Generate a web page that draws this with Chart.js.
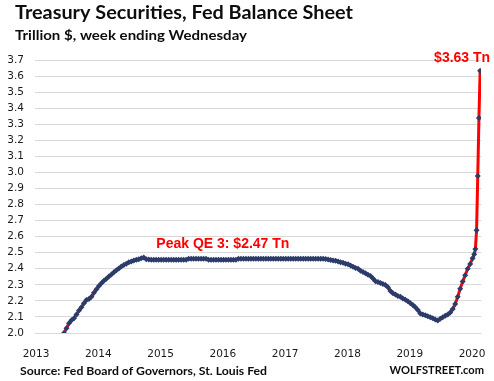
<!DOCTYPE html>
<html><head><meta charset="utf-8">
<script src="https://cdn.jsdelivr.net/npm/chart.js@4.4.1/dist/chart.umd.min.js"></script>
<style>html,body{margin:0;padding:0;background:#fff;overflow:hidden}#wrap{position:relative;width:494px;height:381px}</style>
</head><body><div id="wrap"><canvas id="c" width="494" height="381"></canvas></div>
<script>
// Decimal-year positions of the plotted points
const weekYears = [
 2013.45,2013.49,2013.53,2013.57,2013.61,2013.65,2013.69,2013.73,2013.77,2013.81,
 2013.85,2013.89,2013.93,2013.97,2014.01,2014.05,2014.09,2014.13,2014.17,2014.21,
 2014.25,2014.29,2014.33,2014.37,2014.41,2014.45,2014.49,2014.53,2014.57,2014.61,
 2014.65,2014.69,2014.73,2014.77,2014.81,
 2014.85,2014.89,2014.93,2014.97,2015.01,2015.05,2015.09,2015.13,2015.17,2015.21,
 2015.25,2015.29,2015.33,2015.37,2015.41,
 2015.45,2015.49,2015.53,2015.57,2015.61,2015.65,2015.69,2015.73,
 2015.77,2015.81,2015.85,2015.89,2015.93,2015.97,2016.01,2016.05,2016.09,2016.13,2016.17,2016.21,
 2016.25,2016.29,2016.33,2016.37,2016.41,2016.45,2016.49,2016.53,2016.57,2016.61,
 2016.65,2016.69,2016.73,2016.77,2016.81,2016.85,2016.89,2016.93,2016.97,2017.01,
 2017.05,2017.09,2017.13,2017.17,2017.21,2017.25,2017.29,2017.33,2017.37,2017.41,
 2017.45,2017.49,2017.53,2017.57,2017.61,2017.65,
 2017.69,2017.73,2017.77,2017.81,2017.85,2017.89,2017.93,2017.97,2018.01,2018.05,
 2018.09,2018.13,2018.17,2018.21,2018.25,2018.29,2018.33,2018.37,2018.41,2018.45,
 2018.49,2018.53,2018.57,2018.61,2018.65,2018.69,2018.73,2018.77,2018.81,2018.85,
 2018.89,2018.93,2018.97,2019.01,2019.05,2019.09,2019.13,2019.17,2019.21,2019.25,
 2019.29,2019.33,2019.37,2019.41,2019.45,2019.49,2019.53,2019.57,2019.61,2019.65,
 2019.69,2019.73,2019.77,2019.81,2019.85,2019.89,2019.93,2019.97,2020.01,2020.035,
 2020.054,2020.073,2020.092,2020.111,2020.130
];
// Treasury securities held, trillion $
const treasuryTn = [
 2.000,2.030,2.060,2.080,2.092,2.115,2.140,2.160,2.185,2.205,
 2.212,2.225,2.250,2.272,2.292,2.310,2.325,2.338,2.352,2.365,
 2.378,2.390,2.402,2.414,2.424,2.432,2.440,2.446,2.451,2.456,
 2.460,2.465,2.470,2.460,2.457,
 2.456,2.456,2.456,2.456,2.456,2.456,2.456,2.456,2.456,2.456,
 2.456,2.456,2.456,2.456,2.456,
 2.463,2.463,2.463,2.463,2.463,2.463,2.463,2.463,
 2.456,2.456,2.456,2.456,2.456,2.456,2.456,2.456,2.456,2.456,2.456,2.456,
 2.463,2.463,2.463,2.463,2.463,2.463,2.463,2.463,2.463,2.463,
 2.463,2.463,2.463,2.463,2.463,2.463,2.463,2.463,2.463,2.463,
 2.463,2.463,2.463,2.463,2.463,2.463,2.463,2.463,2.463,2.463,
 2.463,2.463,2.463,2.463,2.462,2.461,
 2.458,2.455,2.452,2.450,2.446,2.440,2.437,2.432,2.428,2.420,
 2.413,2.405,2.400,2.388,2.380,2.372,2.362,2.355,2.340,2.322,
 2.318,2.312,2.305,2.299,2.285,2.262,2.248,2.240,2.230,2.225,
 2.215,2.207,2.198,2.185,2.174,2.160,2.143,2.122,2.115,2.110,
 2.104,2.098,2.092,2.084,2.078,2.088,2.098,2.107,2.115,2.128,
 2.150,2.180,2.225,2.275,2.320,2.360,2.400,2.430,2.465,2.490,
 2.523,2.640,2.978,3.339,3.633
];
const yearTicks = [2013,2014,2015,2016,2017,2018,2019,2020];
const yMin = 2.0, yMax = 3.7, yStep = 0.1;
const titleText = 'Treasury Securities, Fed Balance Sheet';
const subtitleText = 'Trillion $, week ending Wednesday';
const sourceText = 'Source: Fed Board of Governors, St. Louis Fed';
const brandText = 'WOLFSTREET.com';
const peakText = 'Peak QE 3: $2.47 Tn';
const lastText = '$3.63 Tn';

const RED = '#ff0000', NAVY = '#2b3c6b';

function drawFit(ctx, text, x, y, font, width, color) {
  ctx.save();
  ctx.font = font; ctx.fillStyle = color; ctx.textBaseline = 'alphabetic'; ctx.textAlign = 'left';
  const w = ctx.measureText(text).width;
  const s = width / w;
  ctx.translate(x, y); ctx.scale(s, 1);
  ctx.fillText(text, 0, 0);
  ctx.restore();
}

const textPlugin = {
  id: 'texts',
  afterDraw(chart) {
    const ctx = chart.ctx;
    drawFit(ctx, titleText, 15, 19, 'bold 19.5px Lato', 338, '#0d0d0d');
    drawFit(ctx, subtitleText, 15, 40, 'bold 12.5px Lato', 232, '#0d0d0d');
    drawFit(ctx, sourceText, 20, 375, 'bold 11.5px Lato', 247, '#0d0d0d');
    drawFit(ctx, brandText, 389.5, 374, 'bold 10.5px Lato', 94.5, '#0d0d0d');
    const xs = chart.scales.x, ys = chart.scales.y;
    ctx.save();
    ctx.font = 'bold 14px "Liberation Sans"';
    ctx.fillStyle = RED; ctx.textBaseline = 'middle'; ctx.textAlign = 'center';
    ctx.fillText(peakText, xs.getPixelForValue(2016.0), ys.getPixelForValue(2.555));
    const n = weekYears.length - 1;
    const px = xs.getPixelForValue(weekYears[n]), py = ys.getPixelForValue(treasuryTn[n]);
    ctx.textAlign = 'right';
    ctx.fillText(lastText, px + 10, py - 12.5);
    ctx.restore();
  }
};

new Chart(document.getElementById('c'), {
  type: 'line',
  data: {
    datasets: [{
      data: weekYears.map((x, i) => ({ x, y: treasuryTn[i] })),
      borderColor: RED, borderWidth: 3, tension: 0,
      pointStyle: 'rectRot', pointRadius: 3, pointBorderWidth: 0,
      pointBackgroundColor: NAVY, pointBorderColor: NAVY
    }]
  },
  options: {
    responsive: false, animation: false, devicePixelRatio: 1,
    layout: { padding: { top: 60, right: 13, bottom: 0, left: 0 } },
    plugins: { legend: { display: false }, tooltip: { enabled: false }, title: { display: false } },
    scales: {
      x: {
        type: 'linear', min: 2012.984, max: 2020.144,
        afterBuildTicks: s => { s.ticks = yearTicks.map(v => ({ value: v })); },
        afterFit: s => { s.height = 48; },
        grid: { display: false }, border: { display: false },
        ticks: { callback: v => String(v), color: '#1a1a1a', font: { family: 'DejaVu Sans', size: 10.5 }, padding: 7, maxRotation: 0, autoSkip: false }
      },
      y: {
        min: yMin, max: yMax,
        afterFit: s => { s.width = 35; },
        grid: { color: '#d9d9d9', lineWidth: 1, drawTicks: false }, border: { display: false },
        ticks: { stepSize: yStep, callback: v => Number(v).toFixed(1), color: '#1a1a1a', font: { family: 'DejaVu Sans', size: 10.5 }, padding: 11 }
      }
    }
  },
  plugins: [textPlugin]
});
</script></body></html>
